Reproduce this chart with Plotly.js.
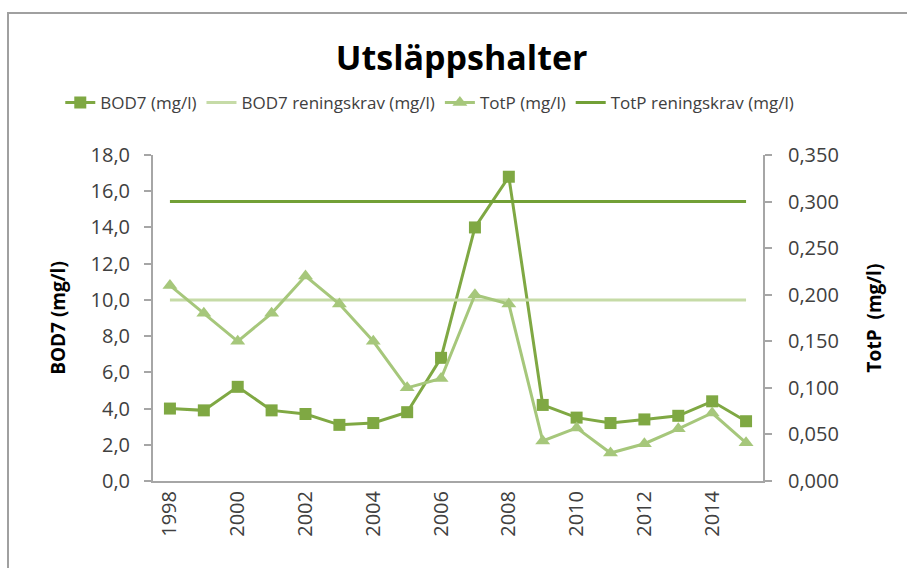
<!DOCTYPE html>
<html>
<head>
<meta charset="utf-8">
<script src="https://cdn.plot.ly/plotly-3.0.1.min.js"></script>
<style>
  html, body { margin: 0; padding: 0; background: #fff; overflow: hidden; }
  #chart { width: 907px; height: 568px; }
</style>
</head>
<body>
<div id="chart"></div>
<script>
  // values
  var years = [1998, 1999, 2000, 2001, 2002, 2003, 2004, 2005, 2006,
               2007, 2008, 2009, 2010, 2011, 2012, 2013, 2014, 2015];
  var bod7 = [4.0, 3.9, 5.2, 3.9, 3.7, 3.1, 3.2, 3.8, 6.8,
              14.0, 16.8, 4.2, 3.5, 3.2, 3.4, 3.6, 4.4, 3.3];
  var totP = [0.210, 0.180, 0.150, 0.180, 0.220, 0.190, 0.150, 0.100, 0.110,
              0.200, 0.190, 0.043, 0.057, 0.030, 0.040, 0.056, 0.073, 0.041];
  var bod7Krav = 10.0;
  var totPKrav = 0.300;
  var labelYears = [1998, 2000, 2002, 2004, 2006, 2008, 2010, 2012, 2014];

  var font = "'Open Sans', 'Noto Sans', sans-serif";
  var axisGrey = '#a6a6a6';

  // category boundaries for the small tick marks
  var bounds = [years[0] - 0.5];
  for (var i = 0; i < years.length; i++) bounds.push(years[i] + 0.5);
  var xRange = [bounds[0], bounds[bounds.length - 1]];

  function fill(v) { return years.map(function() { return v; }); }

  var data = [{
      x: years, y: bod7,
      name: 'BOD7 (mg/l)',
      mode: 'lines+markers',
      line: { color: '#7fa843', width: 3 },
      marker: { symbol: 'square', size: 12, color: '#7fa843' }
    }, {
      x: years, y: fill(bod7Krav),
      name: 'BOD7 reningskrav (mg/l)',
      mode: 'lines',
      line: { color: '#c6dba7', width: 3 }
    }, {
      x: years, y: totP,
      name: 'TotP (mg/l)',
      yaxis: 'y2',
      mode: 'lines+markers',
      line: { color: '#a6c77b', width: 3 },
      marker: { symbol: 'triangle-up', size: 13, color: '#a6c77b' }
    }, {
      x: years, y: fill(totPKrav),
      name: 'TotP reningskrav (mg/l)',
      yaxis: 'y2',
      mode: 'lines',
      line: { color: '#72a036', width: 3 }
    }
  ];

  var tickFont = { family: font, size: 20, color: '#404040' };

  var layout = {
    width: 907,
    height: 568,
    margin: { l: 153, r: 144, t: 155, b: 87 },
    paper_bgcolor: '#fff',
    plot_bgcolor: '#fff',
    separators: ', ',
    showlegend: true,
    title: {
      text: '<b>Utsläppshalter</b>',
      font: { family: font, size: 34, color: '#000' },
      x: 0.509, xref: 'container', xanchor: 'center',
      y: 0.898, yref: 'container', yanchor: 'middle'
    },
    legend: {
      orientation: 'h',
      x: -0.152, xanchor: 'left',
      y: 1.16, yanchor: 'middle',
      font: { family: font, size: 17, color: '#404040' },
      traceorder: 'normal'
    },
    xaxis: {
      type: 'linear',
      range: xRange,
      tickvals: labelYears,
      ticks: '',
      tickangle: -90,
      tickfont: tickFont,
      showgrid: false,
      zeroline: false,
      showline: true,
      linecolor: axisGrey,
      linewidth: 2
    },
    xaxis2: {
      overlaying: 'x', anchor: 'y',
      range: xRange,
      tickvals: bounds,
      ticks: 'outside', ticklen: 7, tickwidth: 2, tickcolor: axisGrey,
      showticklabels: false, showgrid: false, zeroline: false
    },
    xaxis3: {
      overlaying: 'x', anchor: 'y',
      range: xRange,
      tickvals: bounds,
      ticks: 'inside', ticklen: 6, tickwidth: 2, tickcolor: axisGrey,
      showticklabels: false, showgrid: false, zeroline: false
    },
    yaxis: {
      range: [0, 18],
      dtick: 2,
      tickformat: '.1f',
      ticks: 'outside', ticklen: 7, tickwidth: 2, tickcolor: axisGrey,
      ticklabelstandoff: 10,
      tickfont: tickFont,
      showgrid: false,
      zeroline: false,
      showline: true,
      linecolor: axisGrey,
      linewidth: 2,
      title: {
        text: '<b>BOD7 (mg/l)</b>',
        font: { family: font, size: 19, color: '#000' },
        standoff: 20
      }
    },
    yaxis3: {
      overlaying: 'y', anchor: 'x',
      range: [0, 18], dtick: 2,
      ticks: 'inside', ticklen: 8, tickwidth: 2, tickcolor: axisGrey,
      showticklabels: false, showgrid: false, zeroline: false
    },
    yaxis2: {
      overlaying: 'y',
      side: 'right',
      anchor: 'x',
      range: [0, 0.35],
      dtick: 0.05,
      tickformat: '.3f',
      ticks: 'outside', ticklen: 7, tickwidth: 2, tickcolor: axisGrey,
      ticklabelstandoff: 12,
      tickfont: tickFont,
      showgrid: false,
      zeroline: false,
      showline: true,
      linecolor: axisGrey,
      linewidth: 2,
      title: {
        text: '<b>TotP  (mg/l)</b>',
        font: { family: font, size: 19, color: '#000' },
        standoff: 30
      }
    },
    yaxis4: {
      overlaying: 'y', side: 'right', anchor: 'x',
      range: [0, 0.35], dtick: 0.05,
      ticks: 'inside', ticklen: 8, tickwidth: 2, tickcolor: axisGrey,
      showticklabels: false, showgrid: false, zeroline: false
    },
    shapes: [{
      type: 'rect', xref: 'paper', yref: 'paper',
      x0: -0.2377, x1: 1.6, y0: -0.6, y1: 1.4356,
      line: { color: '#a0a0a0', width: 2 }
    }]
  };

  Plotly.newPlot('chart', data, layout, { displayModeBar: false, staticPlot: true });
</script>
</body>
</html>
